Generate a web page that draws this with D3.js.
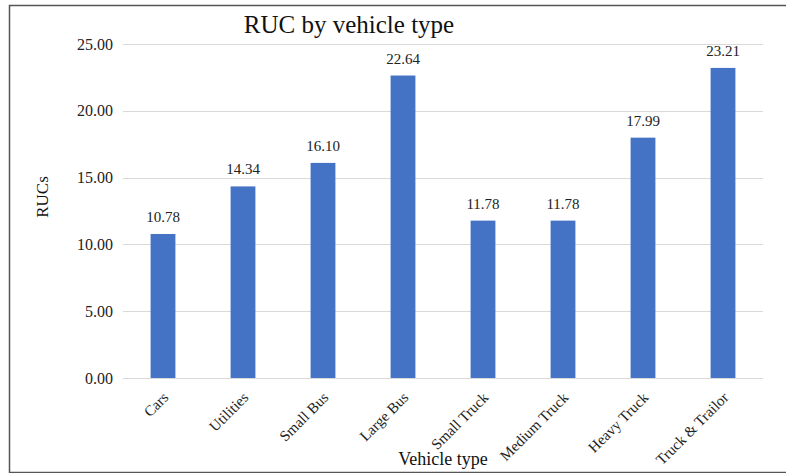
<!DOCTYPE html>
<html><head><meta charset="utf-8">
<script src="https://cdn.jsdelivr.net/npm/d3@7"></script>
<style>body{margin:0;background:#fff}svg{display:block}text{font-family:"Liberation Serif","Times New Roman",serif}</style>
</head><body>
<svg id="c" width="786" height="473"></svg>
<script>
const categories = ["Cars","Utilities","Small Bus","Large Bus","Small Truck","Medium Truck","Heavy Truck","Truck & Trailor"];
const values = [10.78,14.34,16.10,22.64,11.78,11.78,17.99,23.21];
const yTicks = [0,5,10,15,20,25];
const title = "RUC by vehicle type";
const xTitle = "Vehicle type";
const yTitle = "RUCs";

const svg = d3.select("#c");
const W = 786, H = 473;
const m = {left:123, right:23, top:44, bottom:95};
// frame
svg.append("path").attr("d", `M${W},5.5 H9.5 V472.5 H${W}`).attr("fill","none").attr("stroke","#555").attr("stroke-width",1.5);

const x = d3.scaleBand().domain(categories).range([m.left, W - m.right]).paddingInner(0.69).paddingOuter(0.345);
const y = d3.scaleLinear().domain([0,25]).range([H - m.bottom, m.top]);

svg.append("g").selectAll("line").data(yTicks).join("line")
  .attr("x1", m.left).attr("x2", W - m.right)
  .attr("y1", d => Math.round(y(d))+0.5).attr("y2", d => Math.round(y(d))+0.5)
  .attr("stroke","#d9d9d9").attr("stroke-width",1);

svg.append("g").selectAll("text").data(yTicks).join("text")
  .attr("x", m.left - 10).attr("y", d => y(d)).attr("dy","0.35em")
  .attr("text-anchor","end").attr("font-size",16).attr("fill","#222")
  .text(d => d3.format(".2f")(d));

svg.append("g").selectAll("rect").data(values).join("rect")
  .attr("x",(d,i)=>x(categories[i])).attr("width",x.bandwidth())
  .attr("y",d=>y(d)).attr("height",d=>y(0)-y(d)).attr("fill","#4472c4");

svg.append("g").selectAll("text").data(values).join("text")
  .attr("x",(d,i)=>x(categories[i])+x.bandwidth()/2).attr("y",d=>y(d)-12)
  .attr("text-anchor","middle").attr("font-size",15).attr("fill","#222")
  .text(d=>d3.format(".2f")(d));

svg.append("g").selectAll("text").data(categories).join("text")
  .attr("transform", d => `translate(${x(d)+x.bandwidth()/2-1},${y(0)+13}) rotate(-45)`)
  .attr("text-anchor","end").attr("dy","0.7em").attr("font-size",15).attr("fill","#222")
  .text(d=>d);

svg.append("text").attr("x",349).attr("y",33).attr("text-anchor","middle").attr("font-size",25).attr("fill","#111").text(title);
svg.append("text").attr("x",443).attr("y",465).attr("text-anchor","middle").attr("font-size",18).attr("fill","#111").text(xTitle);
svg.append("text").attr("transform","translate(48,197) rotate(-90)").attr("text-anchor","middle").attr("font-size",17).attr("fill","#111").text(yTitle);
</script>
</body></html>
